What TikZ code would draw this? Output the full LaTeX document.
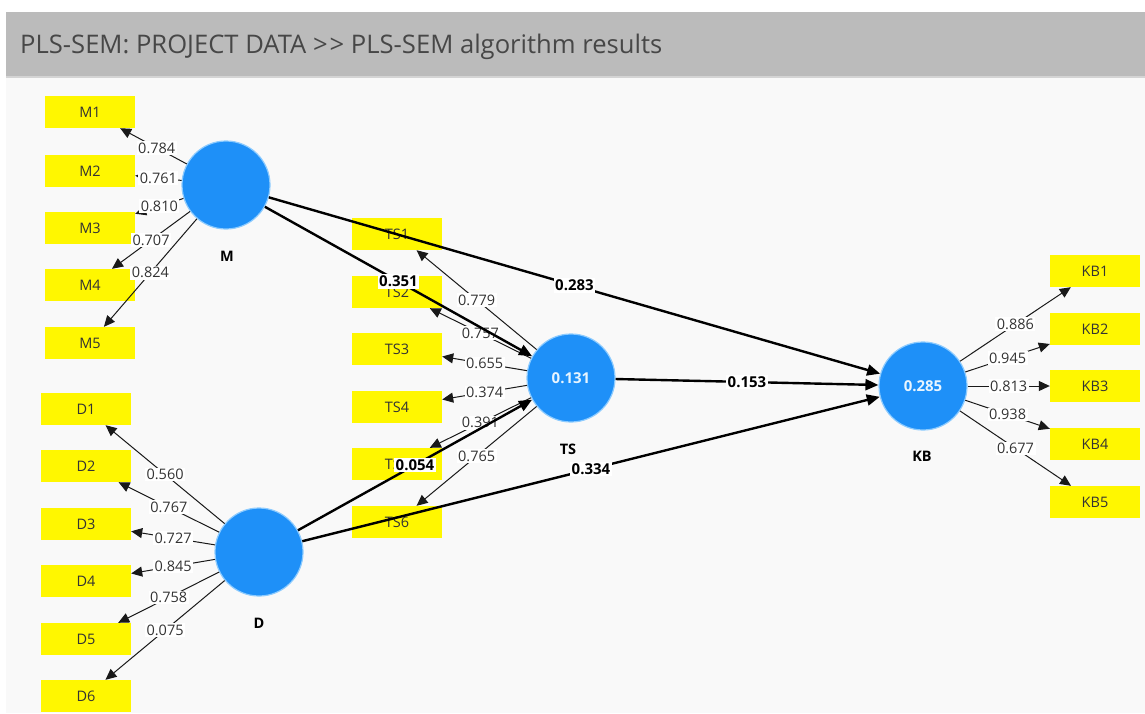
\documentclass[tikz,border=0pt]{standalone}
\usepackage{fontspec}
\setmainfont{Open Sans}
\usetikzlibrary{arrows.meta}
\definecolor{hdr}{HTML}{BBBBBB}
\definecolor{hdrline}{HTML}{D4D4D4}
\definecolor{hdrtext}{HTML}{474747}
\definecolor{bgc}{HTML}{F9F9F9}
\definecolor{lat}{HTML}{1E90F8}
\definecolor{latedge}{HTML}{8CCBFF}
\definecolor{latval}{HTML}{E8F5FF}
\definecolor{indy}{HTML}{FFF700}
\definecolor{txt}{HTML}{333333}
\begin{document}
\begin{tikzpicture}[x=1pt,y=-1pt,
  indbox/.style={fill=indy, minimum width=90pt, minimum height=32pt, inner sep=0pt, font=\fontsize{14.5}{16}\selectfont, text=txt},
  latent/.style={circle, fill=lat, draw=latedge, line width=1.2pt, minimum size=88pt, inner sep=0pt, text=latval, font=\bfseries\fontsize{15}{17}\selectfont},
  latname/.style={font=\bfseries\fontsize{14.5}{16}\selectfont, text=black},
  outer/.style={draw=black!90, line width=1pt, -{Triangle[length=11pt,width=10pt]}},
  pathc/.style={draw=black, line width=2.4pt, -{Triangle[length=13pt,width=11pt]}},
  olab/.style={fill=white, inner sep=1.5pt, font=\fontsize{14.5}{16}\selectfont, text=txt},
  plab/.style={fill=white, inner sep=1.5pt, font=\bfseries\fontsize{15}{17}\selectfont, text=black}]
\useasboundingbox (0,0) rectangle (1145,713);
\fill[white] (0,0) rectangle (1145,713);
\fill[hdr] (6,12) rectangle (1145,76);
\fill[hdrline] (6,76) rectangle (1145,78);
\fill[bgc] (6,78) rectangle (1145,713);
\node[anchor=base west, inner sep=0pt, font=\fontsize{25.6}{30}\selectfont, text=hdrtext] (title) at (20,53) {PLS-SEM: PROJECT DATA >\hspace{2pt}> PLS-SEM algorithm results};

% indicator boxes
\node[indbox] (M1) at (90,112) {M1};
\node[indbox] (M2) at (90,171) {M2};
\node[indbox] (M3) at (90,228) {M3};
\node[indbox] (M4) at (90,285) {M4};
\node[indbox] (M5) at (90,343) {M5};
\node[indbox] (D1) at (86,409) {D1};
\node[indbox] (D2) at (86,466) {D2};
\node[indbox] (D3) at (86,524) {D3};
\node[indbox] (D4) at (86,581) {D4};
\node[indbox] (D5) at (86,639) {D5};
\node[indbox] (D6) at (86,696) {D6};
\node[indbox] (TS1) at (397,234) {TS1};
\node[indbox] (TS2) at (397,292) {TS2};
\node[indbox] (TS3) at (397,349) {TS3};
\node[indbox] (TS4) at (397,407) {TS4};
\node[indbox] (TS5) at (397,464) {TS5};
\node[indbox] (TS6) at (397,522) {TS6};
\node[indbox] (KB1) at (1095,271) {KB1};
\node[indbox] (KB2) at (1095,329) {KB2};
\node[indbox] (KB3) at (1095,386) {KB3};
\node[indbox] (KB4) at (1095,444) {KB4};
\node[indbox] (KB5) at (1095,502) {KB5};

% latent variables
\node[latent] (M) at (226,185) {};
\node[latent] (D) at (259,552) {};
\node[latent] (TS) at (571,378) {0.131};
\node[latent] (KB) at (923,386) {0.285};
\node[latname] (Mlab) at (227,256) {M};
\node[latname] (Dlab) at (259,623) {D};
\node[latname] (TSlab) at (568,449) {TS};
\node[latname] (KBlab) at (922,456) {KB};

% outer loadings
\draw[outer] (M) -- node[olab, pos=0.45]{0.784} (M1);
\draw[outer] (M) -- node[olab]{0.761} (M2);
\draw[outer] (M) -- node[olab]{0.810} (M3);
\draw[outer] (M) -- node[olab]{0.707} (M4);
\draw[outer] (M) -- node[olab]{0.824} (M5);
\draw[outer] (D) -- node[olab]{0.560} (D1);
\draw[outer] (D) -- node[olab]{0.767} (D2);
\draw[outer] (D) -- node[olab]{0.727} (D3);
\draw[outer] (D) -- node[olab]{0.845} (D4);
\draw[outer] (D) -- node[olab]{0.758} (D5);
\draw[outer] (D) -- node[olab]{0.075} (D6);
\draw[outer] (TS) -- node[olab]{0.779} (TS1);
\draw[outer] (TS) -- node[olab]{0.757} (TS2);
\draw[outer] (TS) -- node[olab]{0.655} (TS3);
\draw[outer] (TS) -- node[olab]{0.374} (TS4);
\draw[outer] (TS) -- node[olab]{0.391} (TS5);
\draw[outer] (TS) -- node[olab]{0.765} (TS6);
\draw[outer] (KB) -- node[olab]{0.886} (KB1);
\draw[outer] (KB) -- node[olab]{0.945} (KB2);
\draw[outer] (KB) -- node[olab]{0.813} (KB3);
\draw[outer] (KB) -- node[olab]{0.938} (KB4);
\draw[outer] (KB) -- node[olab]{0.677} (KB5);

% path coefficients
\draw[pathc] (M) -- node[plab]{0.351} (TS);
\draw[pathc] (M) -- node[plab]{0.283} (KB);
\draw[pathc] (TS) -- node[plab]{0.153} (KB);
\draw[pathc] (D) -- node[plab]{0.054} (TS);
\draw[pathc] (D) -- node[plab]{0.334} (KB);
\end{tikzpicture}
\end{document}
